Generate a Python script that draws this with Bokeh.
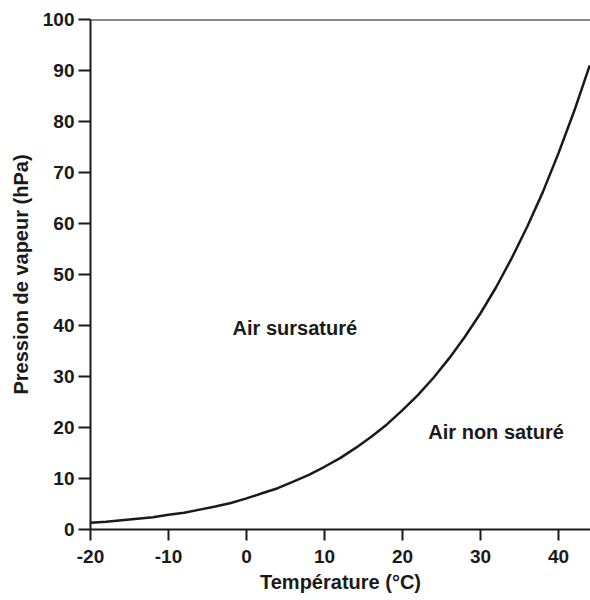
from bokeh.plotting import figure
from bokeh.models import Range1d, Span, Label, FixedTicker
from bokeh.embed import file_html
from bokeh.resources import INLINE

# Data
temperature = [-20, -18, -16, -14, -12, -10, -8, -6, -4, -2, 0, 2, 4, 6, 8, 10,
               12, 14, 16, 18, 20, 22, 24, 26, 28, 30, 32, 34, 36, 38, 40, 42, 44]
pressure = [1.3, 1.5, 1.8, 2.1, 2.4, 2.9, 3.3, 3.9, 4.5, 5.2, 6.1, 7.1, 8.1, 9.4, 10.7, 12.3,
            14.0, 16.0, 18.2, 20.6, 23.4, 26.4, 29.8, 33.6, 37.8, 42.4, 47.5, 53.2, 59.4, 66.2, 73.8, 82.0, 91.0]
x_ticks = [-20, -10, 0, 10, 20, 30, 40]
x_tick_labels = ["-20", "-10", "0", "10", "20", "30", "40"]
y_ticks = [0, 10, 20, 30, 40, 50, 60, 70, 80, 90, 100]
labels_text = ["Air sursaturé", "Air non saturé"]
labels_x = [6.2, 32.0]
labels_y = [39.5, 19.2]

FONT = "Liberation Sans"

p = figure(width=590, height=600, output_backend="svg", toolbar_location=None,
           x_range=Range1d(-20, 44.1), y_range=Range1d(0, 100),
           min_border_left=90, min_border_right=0, min_border_top=19, min_border_bottom=71)

p.outline_line_color = None
p.grid.visible = False
p.background_fill_color = "white"
p.border_fill_color = "white"

p.line(temperature, pressure, line_color="#1a1a1a", line_width=2.5)

p.add_layout(Span(location=100, dimension="width", line_color="#1a1a1a", line_width=2))

for t, xx, yy in zip(labels_text, labels_x, labels_y):
    p.add_layout(Label(x=xx, y=yy, text=t, text_font=FONT, text_font_style="bold",
                       text_font_size="20px", text_color="#1a1a1a",
                       text_align="center", text_baseline="middle"))

for ax in (p.xaxis[0], p.yaxis[0]):
    ax.axis_line_color = "#1a1a1a"
    ax.axis_line_width = 2
    ax.major_tick_line_color = "#1a1a1a"
    ax.major_tick_line_width = 2
    ax.major_tick_in = 0
    ax.minor_tick_line_color = None
    ax.major_label_text_font = FONT
    ax.major_label_text_font_style = "bold"
    ax.major_label_text_font_size = "19px"
    ax.major_label_text_color = "#1a1a1a"
    ax.axis_label_text_font = FONT
    ax.axis_label_text_font_style = "bold"
    ax.axis_label_text_font_size = "20px"
    ax.axis_label_text_color = "#1a1a1a"

p.xaxis[0].ticker = FixedTicker(ticks=x_ticks)
p.xaxis[0].major_label_overrides = {t: s for t, s in zip(x_ticks, x_tick_labels)}
p.yaxis[0].ticker = FixedTicker(ticks=y_ticks)
p.xaxis[0].major_tick_out = 11
p.yaxis[0].major_tick_out = 12
p.xaxis[0].major_label_standoff = 9
p.yaxis[0].major_label_standoff = 4
p.xaxis[0].axis_label = "Température (°C)"
p.yaxis[0].axis_label = "Pression de vapeur (hPa)"
p.xaxis[0].axis_label_standoff = 5
p.yaxis[0].axis_label_standoff = 8

open("out.html", "w").write(file_html(p, INLINE))
